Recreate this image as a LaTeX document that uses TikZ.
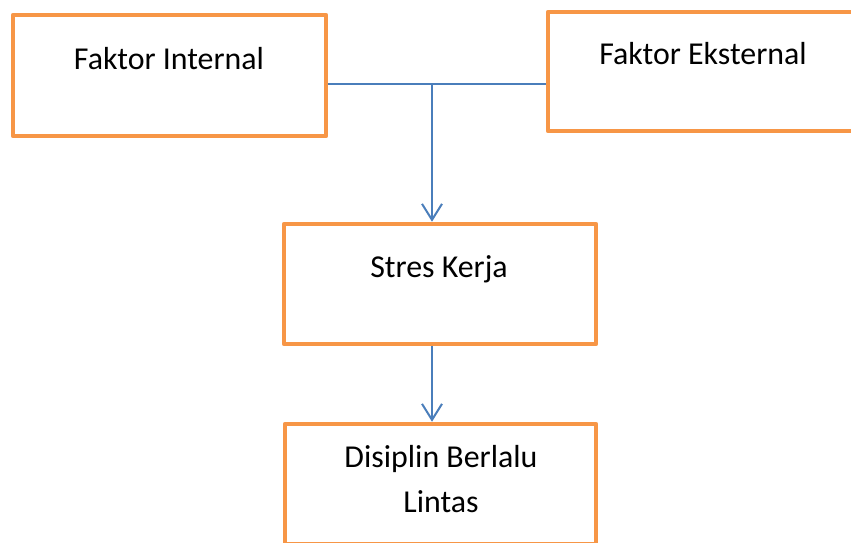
\documentclass[tikz,border=0pt]{standalone}
\usepackage{fontspec}
\setmainfont{Carlito}
\usetikzlibrary{arrows.meta}
\definecolor{boxorange}{HTML}{F79646}
\definecolor{linkblue}{HTML}{4A7EBB}
\begin{document}
\begin{tikzpicture}[x=1bp,y=-1bp,
  box/.style={draw=boxorange, line width=4.5bp, line join=round, rectangle, inner sep=0pt, fill=white},
  lbl/.style={font=\fontsize{32}{45}\selectfont, inner sep=0pt, anchor=base, text=black},
  link/.style={draw=linkblue, line width=2bp},
  arr/.style={link, -{Straight Barb[length=16bp,width=20bp,line width=2bp]}}]
\useasboundingbox (0,0) rectangle (851,543);
\fill[white] (0,0) rectangle (851,543);
\begin{scope}
\clip (0,0) rectangle (851,543);
\node[box, minimum width=313bp, minimum height=121bp] (fi) at (169.5,75.5) {};
\node[box, minimum width=313bp, minimum height=119bp] (fe) at (704.5,71.5) {};
\node[box, minimum width=312bp, minimum height=120bp] (sk) at (440,284) {};
\node[box, minimum width=311bp, minimum height=120bp] (dbl) at (440.5,484) {};
\node[lbl] (fit) at (169,70) {Faktor Internal};
\node[lbl] (fet) at (703,65) {Faktor Eksternal};
\node[lbl] (skt) at (439,278) {Stres Kerja};
\node[lbl] (dblt1) at (441,467) {Disiplin Berlalu};
\node[lbl] (dblt2) at (441,512) {Lintas};
\coordinate (j) at (432,84);
\draw[link] (fi.east |- j) -- (fe.west |- j);
\draw[arr] (j) -- (j |- sk.north);
\draw[arr] (j |- sk.south) -- (j |- dbl.north);
\end{scope}
\end{tikzpicture}
\end{document}
